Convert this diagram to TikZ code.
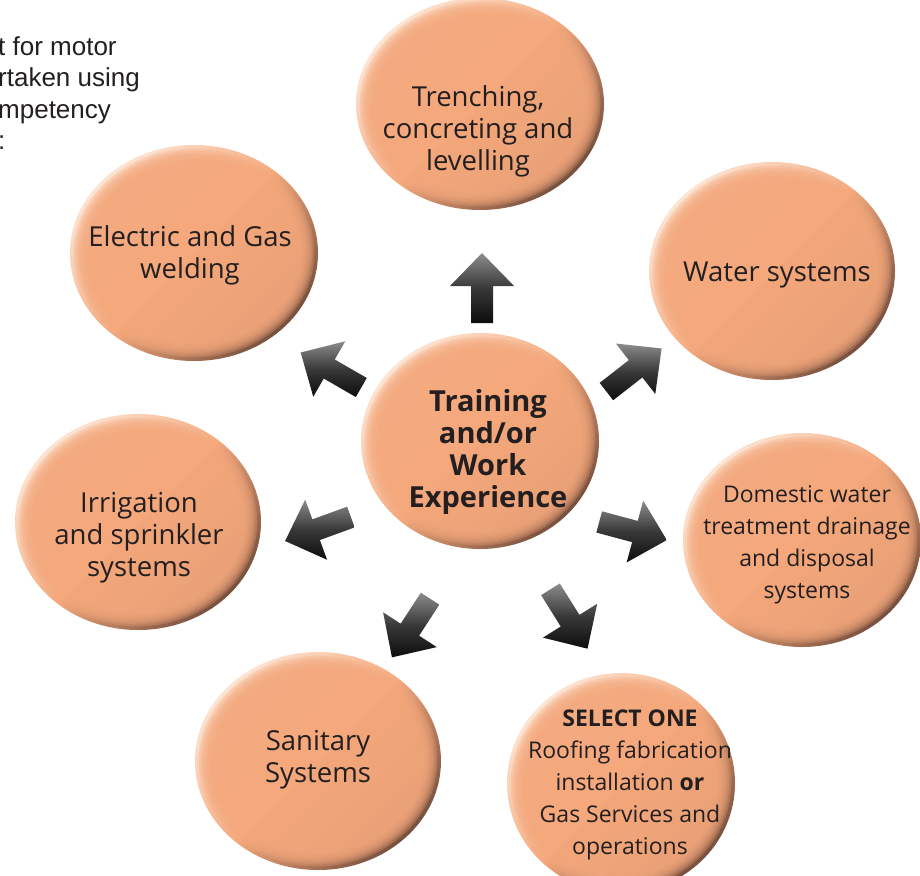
\documentclass[tikz,border=0pt]{standalone}
\usepackage{fontspec}
\setmainfont{Open Sans}
\newfontfamily\introfont{Liberation Sans}

\definecolor{bubblecore}{RGB}{244,168,124}
\definecolor{rimlight}{RGB}{253,228,210}
\definecolor{rimdark}{RGB}{120,80,62}
\definecolor{inktext}{RGB}{35,31,32}

\tikzset{
  rimshade/.style = {top color=rimlight, bottom color=rimdark,
                     middle color=bubblecore, shading angle=45},
  caption/.style = {align=center, text=inktext, inner sep=0pt,
                    font=\fontsize{27.5}{32}\selectfont},
  arrowshade/.style = {top color=black!45, bottom color=black!95,
                       middle color=black!78},
  blockarrow/.pic = {
    \shade[arrowshade] (-35,-11) -- (2,-11) -- (2,-32) -- (35,0)
                       -- (2,32) -- (2,11) -- (-35,11) -- cycle;
  }
}

% bubble: centre, x radius, y radius
\newcommand{\bubble}[3]{%
  \shade[rimshade] (#1) ellipse (#2 and #3);
  \foreach \k in {1,...,7}
    \fill[bubblecore, opacity=0.3] (#1) ellipse ({#2-1.5-2.2*\k} and {#3-1.5-2.2*\k});
}

\begin{document}
\begin{tikzpicture}[x=1pt, y=-1pt]
	\useasboundingbox (0,0) rectangle (920,875);

	% Intro text (cut at the page edge)
	\node[anchor=north west, align=left, inner sep=0pt, text=inktext,
	      font=\introfont\fontsize{26}{31.5}\selectfont] (intro) at (-2,36)
	      {t for motor\\rtaken using\\mpetency\\:};

	% Bubbles
	\bubble{480,104}{124}{106} % trenching
	\bubble{194,253}{124}{108} % welding
	\bubble{772,271}{123}{109} % water
	\bubble{480,441}{119}{108} % centre
	\bubble{138,522}{123}{108} % irrigation
	\bubble{802,540}{119}{107} % domestic
	\bubble{318,761}{123}{109} % sanitary
	\bubble{621,783}{114}{110} % select one

	% Arrows
	\pic (arUp)        at (482,288) [rotate=90]  {blockarrow};
	\pic (arWeld)      at (331,370) [rotate=150] {blockarrow};
	\pic (arWater)     at (634,370) [rotate=38]  {blockarrow};
	\pic (arIrrig)     at (318,529) [rotate=200] {blockarrow};
	\pic (arDomestic)  at (633,531) [rotate=-15] {blockarrow};
	\pic (arSanitary)  at (411,628) [rotate=237] {blockarrow};
	\pic (arSelect)    at (569,619) [rotate=-58] {blockarrow};

	% Labels
	\node[caption] (trench) at (478,131) {Trenching,\\concreting and\\levelling};
	\node[caption] (weld) at (190,255) {Electric and Gas\\welding};
	\node[caption] (water) at (777,275) {Water systems};
	\node[caption, font=\bfseries\fontsize{29}{32}\selectfont] (hub) at (488,452)
	      {Training\\and/or\\Work\\Experience};
	\node[caption] (irrig) at (139,538) {Irrigation\\and sprinkler\\systems};
	\node[caption, font=\fontsize{23}{32}\selectfont] (domestic) at (807,545)
	      {Domestic water\\treatment drainage\\and disposal\\systems};
	\node[caption] (sanitary) at (318,760) {Sanitary\\Systems};
	\node[caption, font=\fontsize{23}{32}\selectfont] (select) at (630,785)
	      {\textbf{SELECT ONE}\\Roofing fabrication\\installation \textbf{or}\\Gas Services and\\operations};

\end{tikzpicture}
\end{document}
